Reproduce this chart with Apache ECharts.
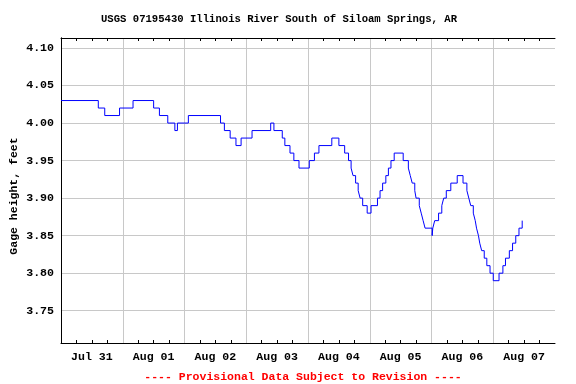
<!DOCTYPE html>
<html>
<head>
<meta charset="utf-8">
<script src="https://cdn.jsdelivr.net/npm/echarts@6/dist/echarts.min.js"></script>
<style>html,body{margin:0;padding:0;background:#fff}#c{width:576px;height:384px}</style>
</head>
<body>
<div id="c"></div>
<script>
// Hours since Jul 31 00:00 at which the gage height changes, and the new value (feet)
const hours = [0, 14.5, 17, 22.75, 28, 36, 38.25, 41.5, 44.25, 45.25, 49.5,
  62, 63.5, 65.75, 68, 70, 74.25, 81.5, 82.75, 86, 87, 89, 90.5, 92.5,
  96.5, 98.5, 100.25, 105.25, 108, 110.25, 111.75, 112.75, 113.5, 114.5, 115.5, 116.25, 117.25,
  119, 120.5, 123, 124, 125, 126.25, 127.25, 128.25, 129.5,
  133, 135, 135.75, 136.5, 137.5, 138, 139.25, 140, 140.75, 141.5,
  144.25, 144.5, 145.25, 146.75, 148, 148.75, 149.75, 151.5, 154, 156.25, 157.75, 158.5, 159.25,
  160.25, 161, 161.5, 162.25, 162.75, 163.5, 164.5, 165.5, 166.75, 168, 170.25, 171.75, 172.75,
  174.25, 175.5, 176.75, 178, 179.25, 179.5];
const gage = [4.03, 4.02, 4.01, 4.02, 4.03, 4.02, 4.01, 4.00, 3.99, 4.00, 4.01,
  4.00, 3.99, 3.98, 3.97, 3.98, 3.99, 4.00, 3.99, 3.98, 3.97, 3.96, 3.95, 3.94,
  3.95, 3.96, 3.97, 3.98, 3.97, 3.96, 3.95, 3.94, 3.93, 3.92, 3.91, 3.90, 3.89,
  3.88, 3.89, 3.90, 3.91, 3.92, 3.93, 3.94, 3.95, 3.96,
  3.95, 3.94, 3.93, 3.92, 3.91, 3.90, 3.89, 3.88, 3.87, 3.86,
  3.85, 3.86, 3.87, 3.88, 3.89, 3.90, 3.91, 3.92, 3.93, 3.92, 3.91, 3.90, 3.89,
  3.88, 3.87, 3.86, 3.85, 3.84, 3.83, 3.82, 3.81, 3.80, 3.79, 3.80, 3.81, 3.82,
  3.83, 3.84, 3.85, 3.86, 3.87, 3.87];
const dayLabels = ['Jul 31', 'Aug 01', 'Aug 02', 'Aug 03', 'Aug 04', 'Aug 05', 'Aug 06', 'Aug 07'];
const yTicks = [3.75, 3.80, 3.85, 3.90, 3.95, 4.00, 4.05, 4.10];
const titleText = 'USGS 07195430 Illinois River South of Siloam Springs, AR';
const yName = 'Gage height, feet';
const footText = '---- Provisional Data Subject to Revision ----';

const FONT = '"Liberation Mono", "DejaVu Sans Mono", monospace';
const chart = echarts.init(document.getElementById('c'), null, {renderer: 'canvas'});
const data = hours.map((h, i) => [h, gage[i]]);

chart.setOption({
  animation: false,
  backgroundColor: '#fff',
  grid: {left: 61, right: 21, top: 38, bottom: 41, show: false, containLabel: false},
  xAxis: [
    {
      type: 'value', position: 'bottom', min: 0, max: 192, interval: 24,
      axisLine: {show: true, lineStyle: {color: '#000', width: 1}},
      axisTick: {show: false, inside: true},
      minorTick: {show: true, splitNumber: 4, length: 3, lineStyle: {color: '#000', width: 1}},
      axisLabel: {show: false},
      splitLine: {show: true, showMinLine: false, showMaxLine: false, lineStyle: {color: '#c8c8c8', width: 1}},
      minorSplitLine: {show: false}
    },
    {
      type: 'value', position: 'bottom', min: 0, max: 192, interval: 12,
      axisLine: {show: false}, axisTick: {show: false}, splitLine: {show: false},
      axisLabel: {
        show: true, margin: 8, color: '#000', fontFamily: FONT, fontWeight: 'bold', fontSize: 11.6,
        formatter: v => (v % 24 === 12 ? dayLabels[(v - 12) / 24] : '')
      }
    },
    {
      type: 'value', position: 'top', min: 0, max: 192, interval: 24,
      axisLine: {show: true, lineStyle: {color: '#000', width: 1}},
      axisTick: {show: false, inside: true},
      minorTick: {show: true, splitNumber: 4, length: 3, lineStyle: {color: '#000', width: 1}},
      axisLabel: {show: false}, splitLine: {show: false}
    }
  ],
  yAxis: [
    {
      type: 'value', position: 'left', min: 3.707, max: 4.1133,
      axisLine: {show: true, lineStyle: {color: '#000', width: 1}},
      axisTick: {show: false, customValues: yTicks},
      axisLabel: {
        show: true, customValues: yTicks, margin: 7, color: '#000', fontFamily: FONT, fontWeight: 'bold', fontSize: 11.6,
        formatter: v => v.toFixed(2)
      },
      splitLine: {show: true, lineStyle: {color: '#c8c8c8', width: 1}}
    },
    {
      type: 'value', position: 'right', min: 3.707, max: 4.1133,
      axisLine: {show: true, lineStyle: {color: '#000', width: 1}},
      axisTick: {show: false}, axisLabel: {show: false}, splitLine: {show: false}
    }
  ],
  series: [{
    type: 'line', xAxisIndex: 0, yAxisIndex: 0, data: data, step: 'end',
    showSymbol: false, symbol: 'none', lineStyle: {color: '#0000ff', width: 1}, z: 5
  }],
  graphic: [
    {type: 'text', x: 279, y: 19, style: {text: titleText, fill: '#000', font: 'bold 10.6px ' + FONT, textAlign: 'center', textVerticalAlign: 'middle'}},
    {type: 'text', x: 14, y: 196, rotation: Math.PI / 2, style: {text: yName, fill: '#000', font: 'bold 11.5px ' + FONT, textAlign: 'center', textVerticalAlign: 'middle'}},
    {type: 'text', x: 303, y: 377, style: {text: footText, fill: '#ff0000', font: 'bold 11.5px ' + FONT, textAlign: 'center', textVerticalAlign: 'middle'}}
  ]
});
</script>
</body>
</html>
